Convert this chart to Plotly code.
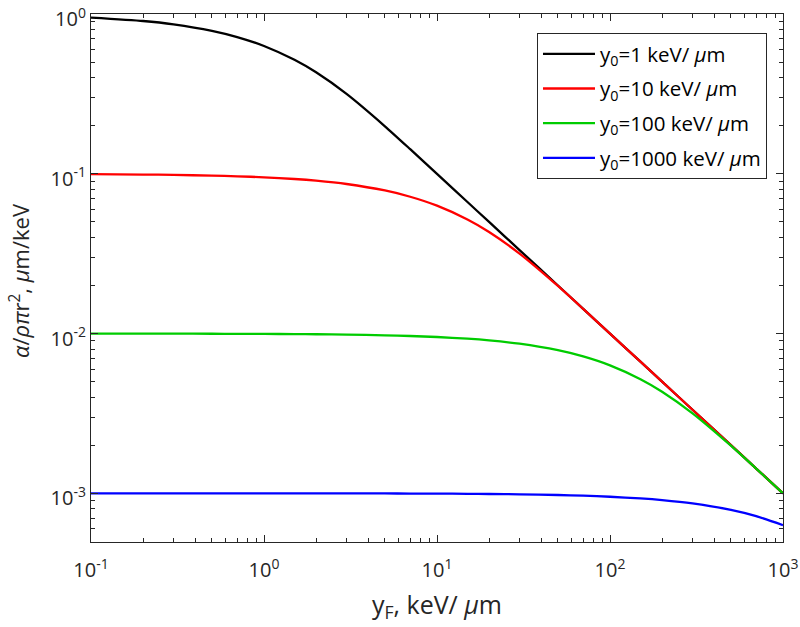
import plotly.graph_objects as go

# x values: y_F (keV/um)
yF = [0.1, 0.2, 0.3, 0.5, 0.7, 1, 1.5, 2, 3, 5, 7, 10, 15, 20, 30, 50, 70,
      100, 150, 200, 300, 500, 700, 1000]

# alpha / (rho pi r^2), um/keV
y0_1 = [0.95163, 0.90635, 0.86394, 0.78694, 0.71916, 0.63212, 0.51791, 0.43233,
        0.31674, 0.19865, 0.14273, 0.099995, 0.066667, 0.05, 0.033333, 0.02,
        0.014286, 0.01, 0.0066667, 0.005, 0.0033333, 0.002, 0.0014286, 0.001]
y0_10 = [0.099502, 0.099007, 0.098515, 0.097541, 0.096584, 0.095163, 0.092861,
         0.090635, 0.086394, 0.078694, 0.071916, 0.063212, 0.051791, 0.043233,
         0.031674, 0.019865, 0.014273, 0.0099995, 0.0066667, 0.005, 0.0033333,
         0.002, 0.0014286, 0.001]
y0_100 = [0.009995, 0.009990, 0.009985, 0.009975, 0.0099651, 0.0099502,
          0.0099254, 0.0099007, 0.0098515, 0.0097541, 0.0096584, 0.0095163,
          0.0092861, 0.0090635, 0.0086394, 0.0078694, 0.0071916, 0.0063212,
          0.0051791, 0.0043233, 0.0031674, 0.0019865, 0.0014273, 0.00099995]
y0_1000 = [0.00099995, 0.0009999, 0.00099985, 0.00099975, 0.00099965, 0.0009995,
           0.00099925, 0.000999, 0.0009985, 0.0009975, 0.00099651, 0.00099502,
           0.00099254, 0.00099007, 0.00098515, 0.00097541, 0.00096584,
           0.00095163, 0.00092861, 0.00090635, 0.00086394, 0.00078694,
           0.00071916, 0.00063212]

y0_labels = ["1", "10", "100", "1000"]
series_vals = [y0_1, y0_10, y0_100, y0_1000]
colors = ["#000000", "#ff0000", "#00cc00", "#0000ff"]

x_tickvals = [0.1, 1, 10, 100, 1000]
x_exps = ["-1", "0", "1", "2", "3"]
y_tickvals = [0.001, 0.01, 0.1, 1]
y_exps = ["-3", "-2", "-1", "0"]

FONT = "Open Sans"
AX = "#262626"

fig = go.Figure()
for i, (lab, vals, c) in enumerate(zip(y0_labels, series_vals, colors)):
    name = f"y<sub>0</sub>={lab} keV/ <i>μ</i>m"
    fig.add_trace(go.Scatter(x=yF, y=vals, mode="lines", name=name,
                             legendgroup=f"g{i}",
                             line=dict(color=c, width=2.3, shape="spline", smoothing=0.6)))

x_minor = [m * 10 ** e for e in range(-1, 3) for m in range(2, 10)]
y_minor = [m * 10 ** e for e in range(-4, 0) for m in range(2, 10) if m * 10 ** e >= 5e-4]

fig.update_xaxes(type="log", range=[-1, 3], tickvals=x_tickvals,
                 ticktext=[f"10<sup>{e}</sup>" for e in x_exps],
                 showline=True, linecolor=AX, linewidth=1, mirror="ticks",
                 ticks="inside", ticklen=7, tickcolor=AX, showgrid=False, zeroline=False,
                 tickfont=dict(family=FONT, size=20, color=AX), automargin=False,
                 ticklabeloverflow="allow", ticklabelstandoff=10,
                 minor=dict(tickvals=x_minor, ticks="inside", ticklen=4, tickcolor=AX, showgrid=False))
fig.update_yaxes(type="log", range=[-3.305, 0.001], tickvals=y_tickvals,
                 ticktext=[f"10<sup>{e}</sup>" for e in y_exps],
                 showline=True, linecolor=AX, linewidth=1, mirror="ticks",
                 ticks="inside", ticklen=7, tickcolor=AX, showgrid=False, zeroline=False,
                 tickfont=dict(family=FONT, size=20, color=AX), automargin=False,
                 ticklabeloverflow="allow", ticklabelshift=5,
                 minor=dict(tickvals=y_minor, ticks="inside", ticklen=4, tickcolor=AX, showgrid=False))

fig.add_annotation(xref="paper", yref="paper", x=0.5, y=0, yanchor="middle",
                   yshift=-63, showarrow=False,
                   text="y<sub>F</sub>, keV/ <i>μ</i>m",
                   font=dict(family=FONT, size=25, color=AX))
fig.add_annotation(xref="paper", yref="paper", x=0, y=0.5, xanchor="center",
                   xshift=-72, yshift=-3, showarrow=False, textangle=-90,
                   text="<i>α</i>/<i>ρπ</i>r<sup>2</sup>, <i>μ</i>m/keV",
                   font=dict(family=FONT, size=22, color=AX))

fig.update_layout(
    width=800, height=627,
    margin=dict(l=91, r=17, t=14, b=85),
    plot_bgcolor="white", paper_bgcolor="white",
    showlegend=True,
    legend=dict(x=0.6445, y=0.964, xanchor="left", yanchor="top",
                bgcolor="white", bordercolor=AX, borderwidth=1,
                font=dict(family=FONT, size=20.5, color="#000000"),
                itemwidth=52, tracegroupgap=5),
)

fig.write_html("out.html", config={"displayModeBar": False},
               post_script="document.body.style.margin='0';document.body.style.padding='0';")
